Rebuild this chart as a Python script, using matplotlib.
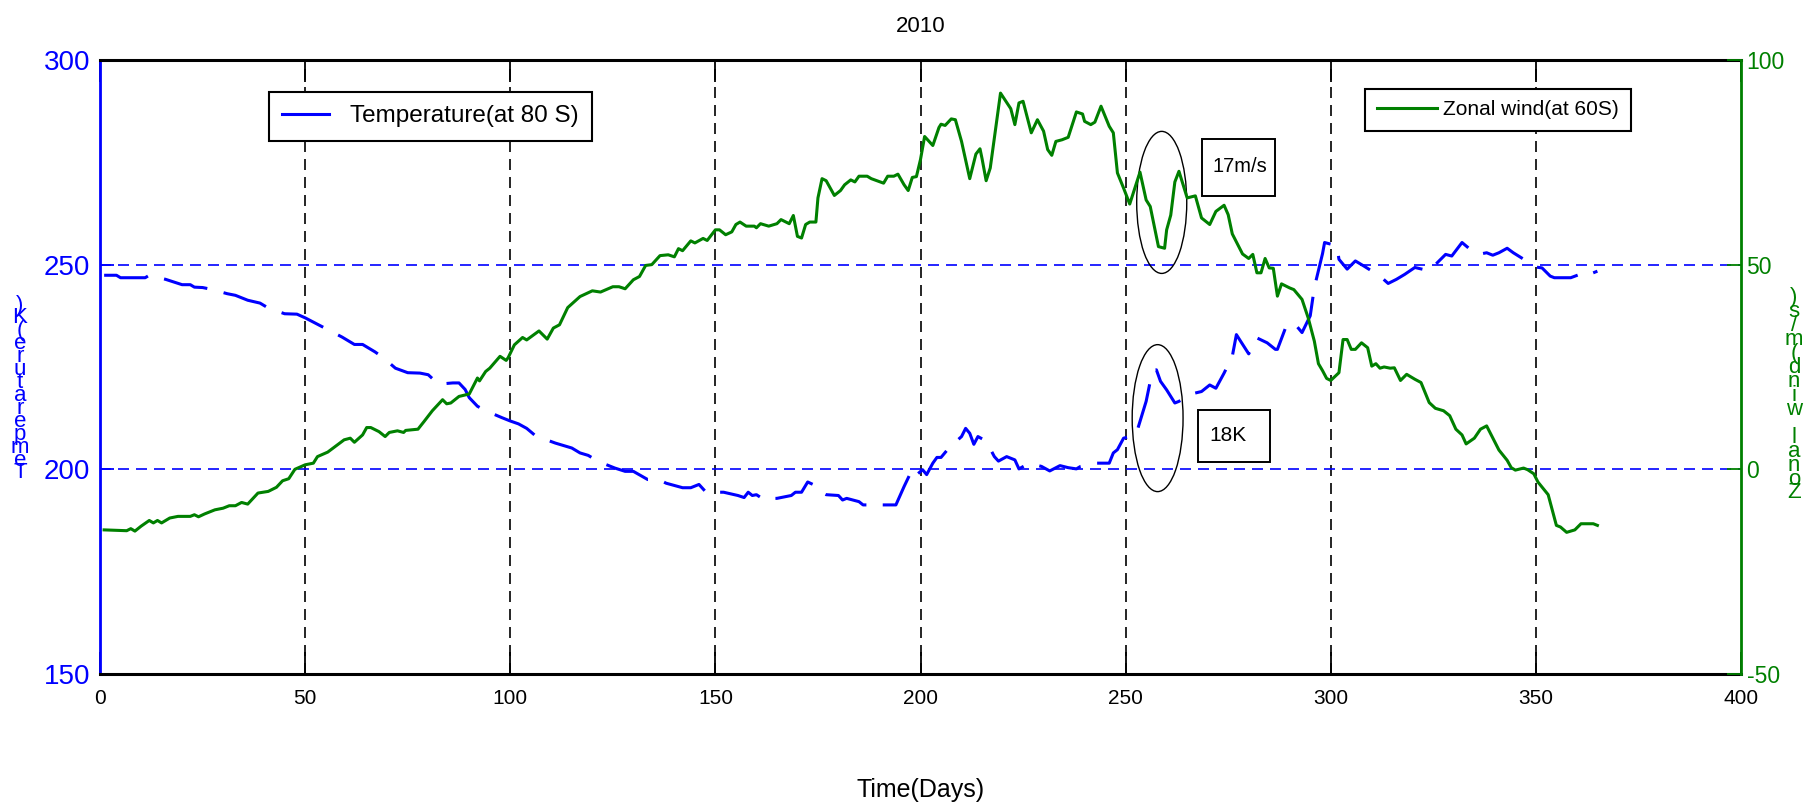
import numpy as np
import matplotlib
matplotlib.use("Agg")
import matplotlib.pyplot as plt
from matplotlib.lines import Line2D
from matplotlib.patches import Ellipse, Rectangle

plt.rcParams['font.family'] = ['Liberation Sans Narrow', 'Liberation Sans', 'DejaVu Sans']
plt.rcParams['axes.unicode_minus'] = False

# temperature at 80S (K)
temp_day = [1, 4, 5, 11, 12, 16, 20, 22, 23, 25, 27, 31, 33, 36, 39, 41, 45, 48, 50, 55,
            59, 62, 64, 67, 69, 72, 75, 78, 80, 82.5, 86, 87.5, 89, 90, 92, 94, 98, 100,
            102, 104, 106.5, 108, 111, 115, 117, 119, 121.5, 125.5, 128, 130, 133.5, 136,
            138, 142, 144, 146, 148, 149, 152, 155.5, 157, 158, 159, 160, 162, 163, 165,
            168.5, 169.5, 171, 172.5, 174, 175, 177, 180, 181, 182, 185, 186, 187, 188,
            190, 194, 196, 198, 199, 200.5, 201.5, 203, 204, 205, 207, 210, 211, 212, 213,
            214, 216, 218, 219, 221, 223, 224, 226.5, 229.5, 231.5, 234, 236, 238, 239,
            243, 246, 247, 248, 249.5, 252.5, 255, 256.5, 257.5, 258.5, 260, 262, 263, 266,
            268.5, 270.5, 272, 274, 276, 277, 280, 282, 284.5, 286.5, 287, 289, 291, 293,
            295, 296, 298, 298.5, 301.5, 302, 304, 306, 308, 312, 314, 316, 318, 320.5,
            324, 328, 329.5, 332, 334.5, 336, 338, 339.5, 341, 343, 344.5, 348.5, 350,
            351.5, 353.5, 354.5, 358.5, 362.5, 363.5, 365]
temp_k = [247.4, 247.4, 246.8, 246.8, 247.4, 246.4, 245.1, 245.1, 244.5, 244.4, 244.0, 242.9,
          242.5, 241.3, 240.6, 239.4, 238.0, 237.9, 237.0, 234.4, 232.3, 230.5, 230.5, 228.7,
          227.3, 224.7, 223.6, 223.5, 223.1, 220.8, 221.1, 221.1, 219.5, 217.5, 215.4, 214.3,
          212.6, 211.8, 211.1, 210.0, 207.9, 207.5, 206.4, 205.2, 204.0, 203.4, 201.9, 200.3,
          199.5, 199.5, 197.5, 197.6, 196.6, 195.5, 195.5, 196.3, 194.1, 194.4, 194.4, 193.6,
          193.1, 194.4, 193.6, 193.8, 192.5, 192.9, 192.9, 193.6, 194.4, 194.4, 196.9, 196.2,
          194.8, 193.8, 193.6, 192.5, 192.9, 192.1, 191.3, 191.3, 191.7, 191.3, 191.3, 195.8,
          200.0, 198.6, 199.9, 198.7, 201.5, 202.9, 202.9, 205.3, 208.0, 210.0, 208.8, 206.1,
          208.0, 206.9, 203.1, 202.0, 203.1, 202.3, 200.1, 201.5, 200.7, 199.6, 200.9, 200.4,
          200.1, 200.7, 201.5, 201.5, 204.0, 204.8, 207.6, 208.4, 216.6, 223.9, 224.3, 221.5,
          219.4, 216.2, 216.6, 218.4, 219.0, 220.6, 219.8, 223.5, 227.6, 232.9, 228.2, 232.1,
          230.9, 229.3, 229.3, 234.6, 235.8, 233.4, 237.5, 244.4, 252.7, 255.4, 254.6, 251.3,
          248.9, 250.9, 249.7, 247.2, 245.4, 246.4, 247.6, 249.3, 248.5, 252.5, 252.1, 255.4,
          253.3, 252.5, 252.9, 252.3, 252.9, 254.0, 252.9, 250.4, 249.4, 249.2, 247.2, 246.8,
          246.8, 248.3, 247.8, 248.4]

# zonal wind at 60S (m/s)
wind_day = [1, 6.5, 7.5, 8.5, 10, 12, 13, 14, 15, 17, 19, 22, 23, 24, 25.5, 28, 30, 31.5, 33,
            34.5, 36, 38.5, 41, 43, 44.5, 46, 47.5, 50, 52, 53, 55.5, 59.5, 61, 62, 64, 65,
            66, 68, 69.5, 70.5, 72.5, 74, 74.5, 77.5, 79, 81, 83.5, 84.5, 85.5, 87.5, 90, 92,
            92.5, 94, 95, 97.5, 99, 99.5, 101, 103, 104, 107, 109, 110.5, 112, 114, 117, 120,
            122, 125, 126.5, 128, 130, 131.5, 133, 134.5, 136.5, 138.5, 140, 141, 142, 144,
            145, 147, 148, 150, 151, 152.5, 154, 155, 156, 157.5, 159.5, 160, 161, 163, 165,
            166, 168, 169, 170, 171, 172, 173, 174.5, 175, 176, 177, 179, 180.5, 181.5, 183,
            184, 185, 187, 188, 191, 192, 193.5, 194.5, 196, 197, 198, 199, 200, 201, 203,
            204.5, 205, 206, 207.5, 208.5, 210, 212, 213.5, 214.5, 215, 216, 217, 219.5, 222,
            223, 224, 225, 227, 228.5, 230, 231, 232, 233, 234.5, 236, 238, 239.5, 240,
            241.5, 242.5, 244, 246, 247, 248, 249.5, 251, 253.5, 255, 256, 258, 259.5, 260,
            261, 262, 263, 265, 267, 268.5, 270.5, 272, 274, 275, 276, 278.5, 280, 281, 282,
            283, 284, 285, 286, 287, 288, 290, 291, 293, 294.5, 296, 297, 298, 299, 300, 302,
            303, 304, 305, 306, 307.5, 309, 310, 311, 312, 313, 314.5, 315.5, 317, 318.5,
            320.5, 322, 324, 325.5, 327.5, 329, 330.5, 332, 333, 335, 336.5, 338, 341, 343,
            344, 345, 347, 348, 349.5, 350.5, 353, 355, 356, 357.5, 359.5, 361, 364, 365]
wind_ms = [-14.8, -15.0, -14.5, -15.1, -13.9, -12.5, -13.1, -12.5, -13.1, -11.9, -11.5, -11.5,
           -11.1, -11.6, -10.9, -9.9, -9.5, -8.9, -8.9, -8.1, -8.5, -5.8, -5.4, -4.4, -2.8,
           -2.3, 0.0, 1.1, 1.5, 3.1, 4.2, 7.2, 7.6, 6.6, 8.4, 10.2, 10.2, 9.2, 8.0, 9.0, 9.4,
           9.0, 9.5, 9.8, 11.7, 14.3, 17.0, 16.0, 16.2, 17.8, 18.4, 22.3, 21.6, 23.9, 24.7,
           27.6, 26.6, 27.3, 30.4, 32.2, 31.6, 33.8, 31.8, 34.5, 35.3, 39.5, 42.2, 43.6, 43.3,
           44.6, 44.6, 44.1, 46.3, 47.1, 49.8, 50.0, 52.2, 52.4, 51.9, 53.9, 53.4, 55.8, 55.3,
           56.4, 55.9, 58.5, 58.5, 57.3, 58.0, 59.8, 60.4, 59.4, 59.4, 59.0, 60.0, 59.4, 60.0,
           61.0, 60.0, 62.0, 56.9, 56.5, 59.8, 60.4, 60.4, 66.3, 71.0, 70.5, 66.9, 68.1, 69.5,
           70.7, 70.2, 71.6, 71.6, 71.0, 69.9, 71.6, 71.6, 72.1, 69.5, 68.1, 71.3, 71.5, 75.7,
           81.3, 79.1, 83.5, 84.3, 84.0, 85.6, 85.4, 80.1, 71.0, 77.0, 78.3, 75.9, 70.5, 73.6,
           91.9, 88.1, 84.2, 89.5, 89.9, 82.2, 85.4, 82.6, 78.1, 76.7, 80.1, 80.5, 81.1, 87.3,
           86.8, 85.0, 84.2, 84.8, 88.7, 83.8, 82.2, 72.4, 68.7, 64.8, 72.6, 65.8, 64.2, 54.4,
           54.0, 58.5, 62.1, 70.2, 72.8, 66.3, 66.8, 61.4, 59.8, 63.0, 64.5, 62.2, 57.5, 52.6,
           51.5, 52.5, 48.0, 48.0, 51.5, 49.2, 49.1, 42.3, 45.3, 44.3, 43.9, 41.5, 37.0, 31.3,
           25.8, 24.1, 22.2, 21.7, 23.6, 31.7, 31.7, 29.3, 29.3, 30.9, 29.7, 25.2, 25.8, 24.7,
           25.0, 24.7, 24.8, 21.7, 23.2, 22.0, 21.2, 16.3, 14.9, 14.3, 13.1, 9.8, 8.4, 6.2,
           7.6, 9.8, 10.6, 4.7, 2.2, 0.4, -0.2, 0.3, -0.1, -1.1, -3.1, -6.2, -13.7, -14.1,
           -15.4, -14.8, -13.3, -13.3, -13.7]

x_ticks = [0, 50, 100, 150, 200, 250, 300, 350, 400]
temp_ticks = [150, 200, 250, 300]
wind_ticks = [-50, 0, 50, 100]
grid_days = [50, 100, 150, 200, 250, 300, 350]
grid_temps = [200, 250]

blue = '#0000FF'
green = '#008000'

fig = plt.figure(figsize=(18.09, 8.09), dpi=100)
ax = fig.add_axes([0.0553, 0.1669, 0.9071, 0.7590])
ax2 = ax.twinx()

for d in grid_days:
    ax.axvline(d, color='black', lw=1.2, ls=(0, (6.6, 4.2)), zorder=1)
for t in grid_temps:
    ax.axhline(t, color=blue, lw=1.2, ls=(0, (6.6, 4.2)), zorder=1)

ax.plot(temp_day, temp_k, color=blue, lw=2.2, ls=(0, (14.7, 5.5)), zorder=3)
ax2.plot(wind_day, wind_ms, color=green, lw=2.2, zorder=3)

ax.set_xlim(0, 400)
ax.set_ylim(150, 300)
ax2.set_ylim(-50, 100)
ax.set_xticks(x_ticks)
ax.set_yticks(temp_ticks)
ax2.set_yticks(wind_ticks)

ax.tick_params(axis='x', direction='in', length=16, width=1.3, top=True,
               labelsize=15, pad=11)
ax.tick_params(axis='y', direction='in', length=10, width=1.3, colors=blue,
               labelsize=20, pad=7)
ax2.tick_params(axis='y', direction='in', length=10, width=1.3, colors=green,
                labelsize=16.5, pad=4)

for s in ['top', 'bottom']:
    ax.spines[s].set_color('black')
    ax.spines[s].set_linewidth(2.2)
ax.spines['left'].set_color(blue)
ax.spines['left'].set_linewidth(2)
ax.spines['right'].set_visible(False)
for s in ['top', 'bottom', 'left']:
    ax2.spines[s].set_visible(False)
ax2.spines['right'].set_color(green)
ax2.spines['right'].set_linewidth(2)

ax.set_title('2010', fontsize=16, pad=20)
ax.set_xlabel('Time(Days)', fontsize=18, labelpad=50)

# stacked y labels
left_lbl = 'Temperature(K)'
for i, ch in enumerate(left_lbl[::-1]):
    yy = 305 + i * (473 - 305) / (len(left_lbl) - 1)
    fig.text(20 / 1809, 1 - yy / 809, ch, color=blue, fontsize=16, ha='center', va='center')
right_lbl = 'Zonal wind(m/s)'
for i, ch in enumerate(right_lbl[::-1]):
    yy = 298 + i * (493 - 298) / (len(right_lbl) - 1)
    fig.text(1794 / 1809, 1 - yy / 809, ch, color=green, fontsize=16, ha='center', va='center')

# annotations
ax.add_patch(Ellipse((258.8, 265.2), 12.2, 34.7, fill=False, ec='black', lw=1.0, zorder=4))
ax.add_patch(Ellipse((257.8, 212.5), 12.4, 35.9, fill=False, ec='black', lw=1.0, zorder=4))
ax.add_patch(Rectangle((268.7, 266.7), 17.7, 13.9, fill=False, ec='black', lw=1.4, zorder=4))
ax.text(277.8, 274.0, '17m/s', fontsize=14.5, ha='center', va='center', zorder=5)
ax.add_patch(Rectangle((267.6, 201.9), 17.6, 12.6, fill=False, ec='black', lw=1.4, zorder=4))
ax.text(270.3, 208.2, '18K', fontsize=15, ha='left', va='center', zorder=5)

leg1 = ax.legend(handles=[Line2D([], [], color=blue, lw=2.2)], labels=['Temperature(at 80 S)'],
                 loc='upper left', bbox_to_anchor=(0.103, 0.948), borderaxespad=0,
                 borderpad=0.55, handlelength=1.9, handletextpad=0.9, fancybox=False,
                 framealpha=1, edgecolor='black', fontsize=17.5)
leg1.get_frame().set_linewidth(1.5)
leg2 = ax2.legend(handles=[Line2D([], [], color=green, lw=2.2)], labels=['Zonal wind(at 60S)'],
                  loc='upper left', bbox_to_anchor=(0.771, 0.953), borderaxespad=0,
                  borderpad=0.55, handlelength=2.9, handletextpad=0.3, fancybox=False,
                  framealpha=1, edgecolor='black', fontsize=15)
leg2.get_frame().set_linewidth(1.5)

fig.savefig('out.png', dpi=100)
